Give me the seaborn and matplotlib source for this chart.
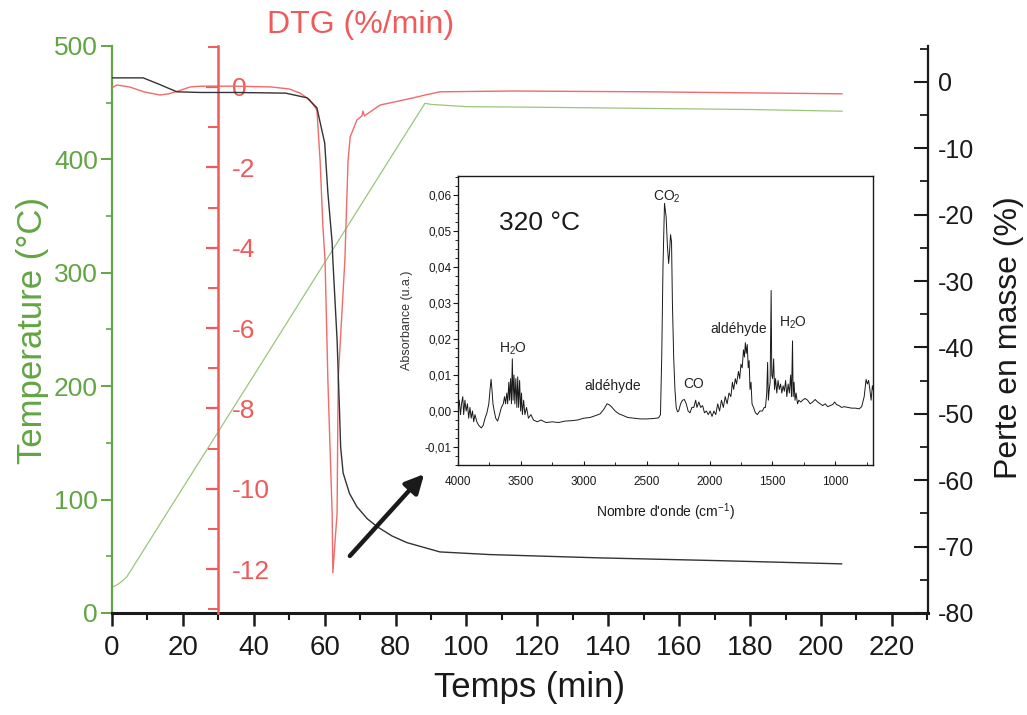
import matplotlib
matplotlib.use("Agg")
import matplotlib.pyplot as plt
import seaborn as sns
import pandas as pd
from matplotlib.ticker import MultipleLocator, FuncFormatter

# ---------------- data ----------------
time_temp = [0, 1, 2, 3, 4.2, 20, 40, 60, 80, 88.3, 90, 100, 120, 150, 180, 206]
temperature = [23, 24, 26, 28.5, 32, 110.5, 209.5, 309, 408.5, 449.5, 448.5, 446.5, 446, 445, 444, 442.5]

time_mass = [0, 5, 8.8, 13, 18.3, 25, 35, 49, 55, 57.8, 60.0, 60.9, 62.1, 62.3, 63.5,
             64.2, 64.5, 65.2, 67, 69.1, 72, 74.8, 79, 83.2, 92.5, 106.6, 137.7, 170, 205.9]
mass_loss = [0.6, 0.6, 0.6, -0.3, -1.5, -1.6, -1.6, -1.7, -2.4, -3.9, -9.2, -16.7, -24.2, -26.8, -38.9,
             -49.8, -55.0, -58.9, -62.0, -64.0, -65.8, -67.0, -68.4, -69.4, -70.8, -71.2, -71.7, -72.1, -72.6]

time_dtg = [0, 1.4, 5, 9, 13.5, 16, 18.7, 22, 25, 35, 45, 50, 53, 55.8, 57.8, 58.7, 59.5, 60.1,
            60.9, 62.1, 62.3, 63.5, 63.8, 65.7, 66.3, 66.6, 67.2, 69.1, 70.5, 70.8, 71.2,
            75.6, 85, 88.3, 92.5, 113, 151, 206]
dtg = [-0.02, 0.05, 0.0, -0.12, -0.2, -0.17, -0.1, 0.0, 0.02, 0.02, 0.0, -0.05, -0.15, -0.32, -0.57,
       -1.82, -3.48, -4.3, -7.29, -10.6, -12.09, -10.6, -7.29, -4.3, -2.64, -1.82, -1.24, -0.82,
       -0.72, -0.6, -0.72, -0.45, -0.27, -0.2, -0.12, -0.1, -0.12, -0.17]

wavenumber = [4000, 3990, 3980, 3972, 3962, 3955, 3945, 3935, 3925, 3915, 3905, 3895, 3885, 3875,
              3865, 3850, 3835, 3815, 3800, 3785, 3770, 3755, 3745, 3737, 3730, 3722, 3712, 3700,
              3685, 3670, 3655, 3640, 3630, 3622, 3612, 3605, 3596, 3590, 3582, 3575, 3568, 3562,
              3555, 3548, 3540, 3532, 3525, 3518, 3510, 3502, 3495, 3488, 3478, 3468, 3455, 3440,
              3420, 3400, 3370, 3340, 3300, 3250, 3200, 3150, 3100, 3050, 3000, 2950, 2900, 2870,
              2840, 2815, 2800, 2780, 2750, 2720, 2690, 2650, 2600, 2550, 2500, 2450, 2405, 2390,
              2380, 2370, 2358, 2345, 2335, 2325, 2318, 2310, 2302, 2295, 2285, 2275, 2265, 2255,
              2245, 2230, 2215, 2200, 2185, 2170, 2155, 2140, 2125, 2110, 2100, 2085, 2070, 2055,
              2040, 2025, 2010, 1995, 1980, 1965, 1950, 1935, 1920, 1905, 1890, 1875, 1860, 1845,
              1830, 1818, 1808, 1795, 1785, 1770, 1760, 1750, 1740, 1730, 1722, 1715, 1708, 1700,
              1692, 1685, 1678, 1670, 1662, 1650, 1635, 1620, 1600, 1580, 1565, 1555, 1545, 1538,
              1532, 1525, 1518, 1510, 1505, 1498, 1490, 1483, 1475, 1465, 1455, 1445, 1435, 1425,
              1415, 1405, 1395, 1385, 1375, 1365, 1355, 1348, 1340, 1335, 1328, 1320, 1312, 1300,
              1290, 1275, 1260, 1240, 1220, 1200, 1180, 1160, 1140, 1120, 1100, 1080, 1060, 1040,
              1020, 1005, 990, 970, 950, 930, 900, 870, 840, 810, 790, 770, 755, 745, 735, 725,
              715, 705, 700]
absorbance = [0.000, 0.003, -0.001, 0.002, 0.004, -0.001, 0.003, 0.000, 0.002, -0.002, 0.001, -0.002,
              0.000, -0.003, -0.001, -0.003, -0.004, -0.0047, -0.004, -0.002, -0.0005, 0.002, 0.006,
              0.0088, 0.006, 0.002, 0.000, -0.002, -0.0028, -0.001, 0.001, 0.002, 0.004, 0.002, 0.005,
              0.002, 0.008, 0.003, 0.009, 0.002, 0.0145, 0.003, 0.010, 0.002, 0.009, 0.001, 0.0095,
              0.001, 0.0085, 0.000, 0.005, -0.001, 0.003, -0.001, 0.001, -0.002, -0.001, -0.0025,
              -0.003, -0.0025, -0.0032, -0.003, -0.0032, -0.0028, -0.0027, -0.0025, -0.002, -0.0018,
              -0.0012, -0.0008, 0.0005, 0.0020, 0.0018, 0.0012, 0.0000, -0.0008, -0.0012, -0.0018,
              -0.002, -0.0022, -0.0022, -0.0021, -0.0019, -0.001, 0.015, 0.040, 0.0577, 0.054, 0.046,
              0.041, 0.044, 0.049, 0.047, 0.030, 0.015, 0.006, 0.001, -0.0002, 0.000, 0.002, 0.003,
              0.0032, 0.002, 0.000, -0.0005, 0.001, 0.001, 0.003, 0.001, 0.0025, 0.001, 0.0015,
              -0.0005, 0.000, -0.001, 0.000, -0.0015, 0.000, -0.001, 0.002, 0.000, 0.003, 0.001,
              0.004, 0.002, 0.005, 0.004, 0.008, 0.006, 0.009, 0.0075, 0.011, 0.009, 0.013, 0.012,
              0.017, 0.015, 0.019, 0.016, 0.0185, 0.012, 0.014, 0.006, 0.008, 0.002, 0.001, -0.0005,
              -0.001, 0.000, 0.000, 0.001, 0.001, 0.005, 0.0135, 0.003, 0.006, 0.008, 0.0335, 0.010,
              0.009, 0.0145, 0.006, 0.009, 0.005, 0.0085, 0.006, 0.0075, 0.005, 0.007, 0.0055, 0.0085,
              0.004, 0.0075, 0.005, 0.010, 0.004, 0.0195, 0.004, 0.008, 0.003, 0.005, 0.002, 0.003,
              0.0025, 0.003, 0.0035, 0.003, 0.002, 0.0025, 0.0032, 0.0025, 0.002, 0.0015, 0.002,
              0.0012, 0.0015, 0.0018, 0.0025, 0.0018, 0.0015, 0.001, 0.0012, 0.0010, 0.0008, 0.0008,
              0.0006, 0.0012, 0.004, 0.0088, 0.0075, 0.0085, 0.006, 0.003, 0.007, 0.006]

peak_labels = ["H$_2$O", "aldéhyde", "CO$_2$", "CO", "aldéhyde", "H$_2$O"]
peak_wn = [3562, 2767, 2337, 2130, 1772, 1335]
peak_abs = [0.0173, 0.0070, 0.0595, 0.0075, 0.0229, 0.0246]

time_ticks = list(range(0, 221, 20))
temp_ticks = [0, 100, 200, 300, 400, 500]
dtg_ticks = [0, -2, -4, -6, -8, -10, -12]
mass_ticks = [0, -10, -20, -30, -40, -50, -60, -70, -80]

# ---------------- style ----------------
sns.set_theme(style="ticks")
plt.rcParams["font.family"] = ["Liberation Sans", "DejaVu Sans"]
plt.rcParams["mathtext.default"] = "regular"
plt.rcParams["axes.unicode_minus"] = False
plt.rcParams["axes.facecolor"] = "none"

GREEN = "#62a544"
GREEN_LINE = "#9cc57c"
RED = "#ef5b5b"
RED_LINE = "#f26a6a"
BLACK = "#1a1a1a"

W, H = 1027, 715
fig = plt.figure(figsize=(W / 100, H / 100), dpi=100)
fig.patch.set_facecolor("white")

L, R, T, B = 112, 928, 46, 613
ax = fig.add_axes([L / W, 1 - B / H, (R - L) / W, (B - T) / H])
ax_dtg = ax.twinx()
ax_mass = ax.twinx()

df_temp = pd.DataFrame({"t": time_temp, "v": temperature})
df_mass = pd.DataFrame({"t": time_mass, "v": mass_loss})
df_dtg = pd.DataFrame({"t": time_dtg, "v": dtg})

sns.lineplot(data=df_temp, x="t", y="v", ax=ax, color=GREEN_LINE, linewidth=0.9)
sns.lineplot(data=df_dtg, x="t", y="v", ax=ax_dtg, color=RED_LINE, linewidth=1.0)
sns.lineplot(data=df_mass, x="t", y="v", ax=ax_mass, color="#333333", linewidth=1.0)

ax.set_xlim(0, 230.2)
ax.set_ylim(0, 500)
ax_dtg.set_ylim(-13.09, 1.02)
ax_mass.set_ylim(-80, 5.4)

def ax_px(px, py):
    return (px - L) / (R - L), (B - py) / (B - T)

# temperature axis (left, green)
for s in ["top", "right"]:
    ax.spines[s].set_visible(False)
ax.spines["left"].set_color(GREEN)
ax.spines["left"].set_linewidth(1.6)
ax.spines["bottom"].set_color(BLACK)
ax.spines["bottom"].set_linewidth(2.2)
ax.set_yticks(temp_ticks)
ax.yaxis.set_minor_locator(MultipleLocator(50))
ax.tick_params(axis="y", which="major", colors=GREEN, labelsize=19, length=8, width=1.4, pad=2,
               direction="out")
ax.tick_params(axis="y", which="minor", colors=GREEN, length=4, width=1.2, direction="out")
ax.set_ylabel("Temperature (°C)", color=GREEN, fontsize=25, va="center", ha="center")
ax.yaxis.set_label_coords(*ax_px(33, 330))

ax.set_xticks(time_ticks)
ax.xaxis.set_minor_locator(MultipleLocator(10))
ax.tick_params(axis="x", which="major", colors=BLACK, labelsize=20, length=9, width=1.8, pad=7,
               direction="out")
ax.tick_params(axis="x", which="minor", colors=BLACK, length=5, width=1.5, direction="out")
ax.set_xlabel("Temps (min)", fontsize=25, color=BLACK, va="center", ha="center")
ax.xaxis.set_label_coords(*ax_px(530, 688))

# DTG axis (red, located at t = 30 min)
for s in ["top", "left", "bottom"]:
    ax_dtg.spines[s].set_visible(False)
ax_dtg.spines["right"].set_position(("data", 30))
ax_dtg.spines["right"].set_color(RED)
ax_dtg.spines["right"].set_linewidth(1.8)
ax_dtg.set_yticks(dtg_ticks)
ax_dtg.yaxis.set_minor_locator(MultipleLocator(1))
ax_dtg.tick_params(axis="y", which="major", colors=RED, labelsize=19, length=9, width=1.6,
                   direction="in", pad=10)
ax_dtg.tick_params(axis="y", which="minor", colors=RED, length=7, width=1.4, direction="in")
ax_dtg.set_ylabel("DTG (%/min)", color=RED, fontsize=23, rotation=0, va="center", ha="center")
ax_dtg.yaxis.set_label_coords(*ax_px(361, 25))

# mass loss axis (right, black)
for s in ["top", "left", "bottom"]:
    ax_mass.spines[s].set_visible(False)
ax_mass.spines["right"].set_color(BLACK)
ax_mass.spines["right"].set_linewidth(1.6)
ax_mass.set_yticks(mass_ticks)
ax_mass.yaxis.set_minor_locator(MultipleLocator(5))
ax_mass.tick_params(axis="y", which="major", colors=BLACK, labelsize=18, length=10, width=1.5,
                    direction="in", pad=7)
ax_mass.tick_params(axis="y", which="minor", colors=BLACK, length=6, width=1.3, direction="in")
ax_mass.set_ylabel("Perte en masse (%)", color=BLACK, fontsize=23, rotation=90, va="center",
                   ha="center")
ax_mass.yaxis.set_label_coords(*ax_px(1009, 338))

# arrow pointing to the inset
fig.add_artist(matplotlib.patches.FancyArrowPatch(
    (348 / W, 1 - 558 / H), (426 / W, 1 - 472 / H), transform=fig.transFigure,
    arrowstyle="-|>", mutation_scale=28, linewidth=3.2, color=BLACK))

# ---------------- inset FTIR spectrum ----------------
iL, iR, iT, iB = 458, 873, 176, 465
ins = fig.add_axes([iL / W, 1 - iB / H, (iR - iL) / W, (iB - iT) / H])
ins.set_facecolor("white")
df_ir = pd.DataFrame({"wn": wavenumber, "a": absorbance})
sns.lineplot(data=df_ir, x="wn", y="a", ax=ins, color=BLACK, linewidth=0.7)
ins.set_xlim(4000, 700)
ins.set_ylim(-0.015, 0.0653)
for s in ins.spines.values():
    s.set_color(BLACK)
    s.set_linewidth(1.0)
ins.xaxis.set_major_locator(MultipleLocator(500))
ins.xaxis.set_minor_locator(MultipleLocator(250))
ins.yaxis.set_major_locator(MultipleLocator(0.01))
ins.yaxis.set_minor_locator(MultipleLocator(0.0025))
ins.yaxis.set_major_formatter(FuncFormatter(lambda v, p: f"{v:.2f}".replace(".", ",").replace("-0,00", "0,00")))
ins.xaxis.set_major_formatter(FuncFormatter(lambda v, p: f"{v:.0f}"))
ins.tick_params(axis="x", which="major", labelsize=8.5, length=3, width=0.8, direction="in", pad=8,
                colors=BLACK)
ins.tick_params(axis="x", which="minor", length=2, width=0.7, direction="in")
ins.tick_params(axis="y", which="major", labelsize=8.5, length=3.5, width=0.8, direction="out", pad=1,
                colors=BLACK)
ins.tick_params(axis="y", which="minor", length=2, width=0.7, direction="out")
ins.set_xlabel("Nombre d'onde (cm$^{-1}$)", fontsize=10, color=BLACK, va="center")
ins.set_ylabel("Absorbance (u.a.)", fontsize=9, color="#333333", va="center")
ins.xaxis.set_label_coords((665 - iL) / (iR - iL), (iB - 512) / (iB - iT))
ins.yaxis.set_label_coords((407 - iL) / (iR - iL), 0.5)

for lab, wn, a in zip(peak_labels, peak_wn, peak_abs):
    ins.text(wn, a, lab, fontsize=10, ha="center", va="center", color="#222222")
ins.text(3348, 0.0522, "320 °C", fontsize=19, ha="center", va="center", color=BLACK)

fig.savefig("out.png", dpi=100, facecolor="white")
